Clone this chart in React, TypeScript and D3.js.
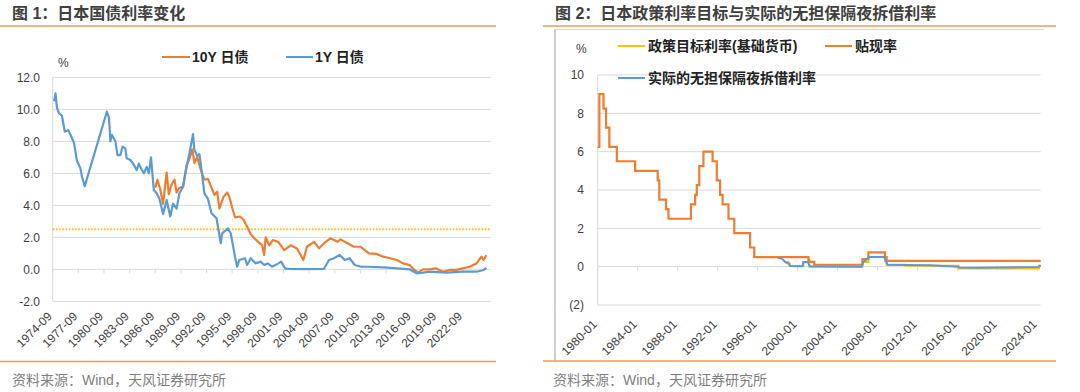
import React from 'react';
import * as d3 from 'd3';

const W = 1080;
const H = 392;

// ---- 图1: 日本国债利率 (%)
const y10Dates = [
  '1986-09', '1986-12', '1987-04', '1987-08', '1988-01', '1988-04', '1988-08', '1988-12', '1989-03', '1989-07',
  '1989-12', '1990-05', '1990-09', '1991-01', '1991-04', '1991-08', '1992-01', '1992-06', '1992-11', '1993-04',
  '1993-08', '1993-12', '1994-03', '1994-09', '1995-02', '1995-05', '1995-09', '1996-01', '1996-08', '1997-01',
  '1997-06', '1997-11', '1998-04', '1998-10', '1999-03', '1999-06', '1999-08', '2000-01', '2000-06', '2001-02',
  '2001-10', '2002-07', '2003-04', '2004-01', '2004-06', '2005-04', '2005-11', '2006-06', '2007-03', '2008-01',
  '2008-05', '2009-03', '2009-12', '2010-09', '2011-09', '2012-08', '2013-05', '2014-03', '2014-12', '2015-09',
  '2016-06', '2017-01', '2017-06', '2018-01', '2018-10', '2019-07', '2020-05', '2021-03', '2021-12', '2022-09',
  '2023-06', '2024-04', '2024-11', '2025-02', '2025-06',
];
const y10Values = [
  5.1, 5.6, 5.0, 4.1, 6.05, 4.7, 5.3, 5.6, 4.8, 5.1,
  5.16, 6.5, 6.9, 7.5, 6.65, 7.0, 6.2, 5.6, 5.65, 5.1,
  4.65, 4.85, 3.8, 4.54, 4.8, 4.54, 3.85, 3.25, 3.3, 3.1,
  2.66, 2.2, 1.94, 1.7, 1.5, 0.9, 2.0, 1.5, 1.83, 1.7,
  1.2, 1.5, 1.3, 0.58, 1.41, 1.72, 1.31, 1.63, 1.94, 1.72,
  1.87, 1.63, 1.41, 1.41, 1.0, 0.96, 0.79, 0.69, 0.58, 0.37,
  0.27, -0.04, -0.21, 0.0, 0.0, 0.06, -0.15, -0.04, -0.04, 0.06,
  0.16, 0.37, 0.79, 0.58, 0.88,
];

const y1Dates = [
  '1974-11', '1975-01', '1975-03', '1975-06', '1975-10', '1976-02', '1976-07', '1976-11', '1977-03', '1977-07',
  '1977-12', '1978-02', '1978-06', '1981-01', '1981-04', '1981-06', '1981-08', '1982-01', '1982-04', '1982-08',
  '1982-11', '1983-03', '1983-05', '1983-10', '1984-02', '1984-07', '1984-10', '1985-01', '1985-05', '1985-09',
  '1985-12', '1986-03', '1986-05', '1986-07', '1986-11', '1987-03', '1987-08', '1988-01', '1988-06', '1988-10',
  '1989-03', '1989-07', '1989-12', '1990-05', '1990-09', '1991-02', '1991-04', '1991-08', '1991-11', '1992-02',
  '1992-06', '1992-11', '1993-04', '1993-11', '1994-05', '1994-07', '1995-03', '1995-07', '1996-01', '1996-04',
  '1996-07', '1997-03', '1997-06', '1997-11', '1998-06', '1999-01', '1999-06', '1999-11', '2000-05', '2001-02',
  '2001-06', '2001-11', '2002-06', '2004-01', '2006-06', '2007-01', '2007-08', '2008-04', '2008-11', '2009-06',
  '2010-01', '2010-10', '2011-07', '2013-06', '2015-01', '2016-06', '2017-04', '2018-01', '2018-10', '2020-10',
  '2022-08', '2024-04', '2025-01', '2025-06',
];
const y1Values = [
  10.5, 11.0, 10.1, 9.75, 9.6, 8.6, 8.7, 8.3, 7.9, 6.8,
  6.3, 5.8, 5.2, 9.85, 9.5, 8.0, 8.4, 8.0, 7.14, 7.14,
  7.66, 7.56, 6.94, 6.83, 6.6, 6.2, 6.6, 6.3, 6.0, 6.4,
  6.0, 7.0, 6.0, 4.96, 4.75, 4.4, 3.45, 4.33, 3.3, 4.1,
  3.8, 4.75, 5.16, 6.4, 7.25, 8.45, 7.45, 7.1, 7.2, 6.2,
  4.75, 4.4, 3.5, 3.19, 1.63, 2.25, 2.56, 2.25, 0.79, 0.16,
  0.58, 0.69, 0.27, 0.69, 0.37, 0.48, 0.27, 0.37, 0.16, 0.37,
  0.48, 0.06, 0.02, 0.01, 0.03, 0.58, 0.69, 0.9, 0.58, 0.69,
  0.27, 0.16, 0.16, 0.12, 0.06, 0.0, -0.25, -0.21, -0.15, -0.21,
  -0.15, -0.15, -0.06, 0.08,
];

const leftYTicks = [-2, 0, 2, 4, 6, 8, 10, 12];
const leftXTicks = [
  '1974-09', '1977-09', '1980-09', '1983-09', '1986-09', '1989-09', '1992-09', '1995-09', '1998-09',
  '2001-09', '2004-09', '2007-09', '2010-09', '2013-09', '2016-09', '2019-09', '2022-09',
];
const refLevel = 2.5;

// ---- 图2: 政策利率目标与无担保隔夜拆借利率 (%)
const discountDates = [
  '1980-01', '1980-03', '1980-08', '1980-11', '1981-03', '1981-12', '1983-10', '1986-01', '1986-03', '1986-11',
  '1987-02', '1989-05', '1989-10', '1989-12', '1990-03', '1990-08', '1991-07', '1991-12', '1992-04', '1992-07',
  '1993-02', '1993-09', '1995-04', '1995-09', '2001-02', '2001-03', '2001-09', '2006-07', '2007-02', '2008-10',
  '2008-12', '2024-05',
];
const discountValues = [
  6.25, 9.0, 8.25, 7.25, 6.25, 5.5, 5.0, 4.5, 3.5, 3.0,
  2.5, 3.25, 3.75, 4.25, 5.25, 6.0, 5.5, 4.5, 3.75, 3.25,
  2.5, 1.75, 1.0, 0.5, 0.35, 0.25, 0.1, 0.4, 0.75, 0.5,
  0.3, 0.3,
];

const targetDates = [
  '1998-09', '1999-02', '1999-04', '2000-08', '2001-03', '2006-07', '2007-02', '2008-10', '2008-12', '2010-10',
  '2016-02', '2024-03', '2024-05',
];
const targetValues = [0.25, 0.15, 0.04, 0.25, 0.0, 0.25, 0.5, 0.3, 0.1, 0.05, -0.1, 0.05, 0.05];

const callDates = [
  '1998-01', '1998-06', '1998-09', '1998-11', '1999-02', '1999-04', '2000-07', '2000-08', '2001-01', '2001-03',
  '2001-04', '2006-06', '2006-08', '2007-02', '2007-03', '2008-09', '2008-11', '2009-01', '2010-10', '2013-04',
  '2016-02', '2016-04', '2018-01', '2020-01', '2022-01', '2024-02', '2024-05',
];
const callValues = [
  0.45, 0.42, 0.3, 0.22, 0.18, 0.03, 0.02, 0.24, 0.25, 0.1,
  0.02, 0.0, 0.25, 0.45, 0.5, 0.5, 0.3, 0.1, 0.09, 0.07,
  0.0, -0.05, -0.06, -0.04, -0.03, -0.02, 0.07,
];

const rightYTicks = [-2, 0, 2, 4, 6, 8, 10];
const rightXTicks = [
  '1980-01', '1984-01', '1988-01', '1992-01', '1996-01', '2000-01', '2004-01', '2008-01', '2012-01', '2016-01',
  '2020-01', '2024-01',
];

const ORANGE = '#ED7D31';
const BLUE = '#5B9BD5';
const GOLD = '#FFC000';
const RULE = '#F39A4E';
const GRID = '#D9D9D9';
const LABEL = '#404040';
const FONT = "'Liberation Sans', Arial, 'Noto Sans CJK SC', sans-serif";

const parse = d3.timeParse('%Y-%m');
const zip = (dates: string[], vals: number[]) => dates.map((d, i) => [parse(d) as Date, vals[i]] as [Date, number]);

const LeftChart = () => {
  const x = d3.scaleTime().domain([parse('1974-09') as Date, parse('2025-12') as Date]).range([52.7, 490.7]);
  const y = d3.scaleLinear().domain([-2, 12]).range([301.3, 77.3]);
  const line = d3.line<[Date, number]>().x(d => x(d[0])).y(d => y(d[1]));
  const xl = x.range();

  return (
    <g>
      <text x={12} y={19} fontFamily={FONT} fontWeight="bold" fontSize={16} fill={LABEL}>图 1：日本国债利率变化</text>
      <line x1={0} x2={496} y1={26} y2={26} stroke={RULE} strokeWidth={1.5} />

      {leftYTicks.map(t => (
        <g key={t}>
          <line x1={xl[0]} x2={xl[1]} y1={y(t)} y2={y(t)} stroke={GRID} strokeWidth={1} />
          <text x={40} y={y(t)} dy="0.35em" textAnchor="end" fontFamily={FONT} fontSize={12} fill={LABEL}>
            {t.toFixed(1)}
          </text>
        </g>
      ))}
      <line x1={xl[0]} x2={xl[0]} y1={y(12)} y2={y(-2)} stroke={GRID} />
      {leftXTicks.map(t => {
        const px = x(parse(t) as Date);
        return (
          <g key={t}>
            <line x1={px} x2={px} y1={y(0)} y2={y(0) + 4} stroke={GRID} />
            <text
              transform={`translate(${px},${317}) rotate(-45)`}
              textAnchor="end"
              fontFamily={FONT}
              fontSize={12}
              fill={LABEL}
            >
              {t}
            </text>
          </g>
        );
      })}
      <text x={58} y={67} fontFamily={FONT} fontSize={12} fill={LABEL}>%</text>

      <line x1={xl[0]} x2={xl[1]} y1={y(refLevel)} y2={y(refLevel)} stroke={GOLD} strokeWidth={2} strokeDasharray="1.6 1.6" />
      <path d={line(zip(y10Dates, y10Values)) || ''} fill="none" stroke={ORANGE} strokeWidth={2.2} strokeLinejoin="round" />
      <path d={line(zip(y1Dates, y1Values)) || ''} fill="none" stroke={BLUE} strokeWidth={2.2} strokeLinejoin="round" />

      <line x1={162} x2={190} y1={57} y2={57} stroke={ORANGE} strokeWidth={2} />
      <text x={192} y={62} fontFamily={FONT} fontWeight="bold" fontSize={14} fill="#222">10Y 日债</text>
      <line x1={286} x2={313} y1={57} y2={57} stroke={BLUE} strokeWidth={2} />
      <text x={315} y={62} fontFamily={FONT} fontWeight="bold" fontSize={14} fill="#222">1Y 日债</text>

      <line x1={0} x2={496} y1={361.5} y2={361.5} stroke={RULE} strokeWidth={1.5} />
      <text x={12} y={385} fontFamily={FONT} fontSize={14} fill="#7F7F7F">资料来源：Wind，天风证券研究所</text>
    </g>
  );
};

const RightChart = () => {
  const x = d3.scaleTime().domain([parse('1980-01') as Date, parse('2024-05') as Date]).range([597.7, 1040.7]);
  const y = d3.scaleLinear().domain([-2, 10]).range([305, 75]);
  const step = d3.line<[Date, number]>().x(d => x(d[0])).y(d => y(d[1])).curve(d3.curveStepAfter);
  const line = d3.line<[Date, number]>().x(d => x(d[0])).y(d => y(d[1]));
  const xl = x.range();
  const fmt = (v: number) => (v < 0 ? `(${-v})` : `${v}`);

  return (
    <g>
      <text x={555} y={19} fontFamily={FONT} fontWeight="bold" fontSize={16} fill={LABEL}>
        图 2：日本政策利率目标与实际的无担保隔夜拆借利率
      </text>
      <line x1={543} x2={1056} y1={26} y2={26} stroke={RULE} strokeWidth={1.5} />

      <line x1={554} x2={1044} y1={29.5} y2={29.5} stroke={GRID} />
      <line x1={555} x2={555} y1={29.5} y2={361} stroke="#BFBFBF" strokeWidth={1.5} />

      {rightYTicks.map(t => (
        <g key={t}>
          <line x1={xl[0]} x2={xl[1]} y1={y(t)} y2={y(t)} stroke={GRID} strokeWidth={1} />
          <text x={584} y={y(t)} dy="0.35em" textAnchor="end" fontFamily={FONT} fontSize={12} fill={LABEL}>
            {fmt(t)}
          </text>
        </g>
      ))}
      <line x1={xl[0]} x2={xl[0]} y1={y(10)} y2={y(-2)} stroke={GRID} />
      {rightXTicks.map(t => {
        const px = x(parse(t) as Date);
        return (
          <g key={t}>
            <line x1={px} x2={px} y1={y(0)} y2={y(0) + 4} stroke={GRID} />
            <text
              transform={`translate(${px},${325}) rotate(-45)`}
              textAnchor="end"
              fontFamily={FONT}
              fontSize={12}
              fill={LABEL}
            >
              {t}
            </text>
          </g>
        );
      })}
      <text x={576} y={53} fontFamily={FONT} fontSize={12} fill={LABEL}>%</text>

      <path d={step(zip(targetDates, targetValues)) || ''} fill="none" stroke={GOLD} strokeWidth={2} />
      <path d={step(zip(discountDates, discountValues)) || ''} fill="none" stroke={ORANGE} strokeWidth={2.2} />
      <path d={line(zip(callDates, callValues)) || ''} fill="none" stroke={BLUE} strokeWidth={2} strokeLinejoin="round" />

      <line x1={618} x2={645} y1={46} y2={46} stroke={GOLD} strokeWidth={2} />
      <text x={648} y={51} fontFamily={FONT} fontWeight="bold" fontSize={14} fill="#222">政策目标利率(基础货币)</text>
      <line x1={825} x2={852} y1={46} y2={46} stroke={ORANGE} strokeWidth={2} />
      <text x={855} y={51} fontFamily={FONT} fontWeight="bold" fontSize={14} fill="#222">贴现率</text>
      <line x1={618} x2={645} y1={78} y2={78} stroke={BLUE} strokeWidth={2} />
      <text x={648} y={83} fontFamily={FONT} fontWeight="bold" fontSize={14} fill="#222">实际的无担保隔夜拆借利率</text>

      <line x1={543} x2={1056} y1={361} y2={361} stroke={RULE} strokeWidth={1.5} />
      <text x={553} y={385} fontFamily={FONT} fontSize={14} fill="#7F7F7F">资料来源：Wind，天风证券研究所</text>
    </g>
  );
};

export default function App() {
  return (
    <div style={{ position: 'absolute', left: 0, top: 0 }}>
      <svg width={W} height={H} style={{ display: 'block', background: '#fff' }}>
        <LeftChart />
        <RightChart />
      </svg>
    </div>
  );
}
